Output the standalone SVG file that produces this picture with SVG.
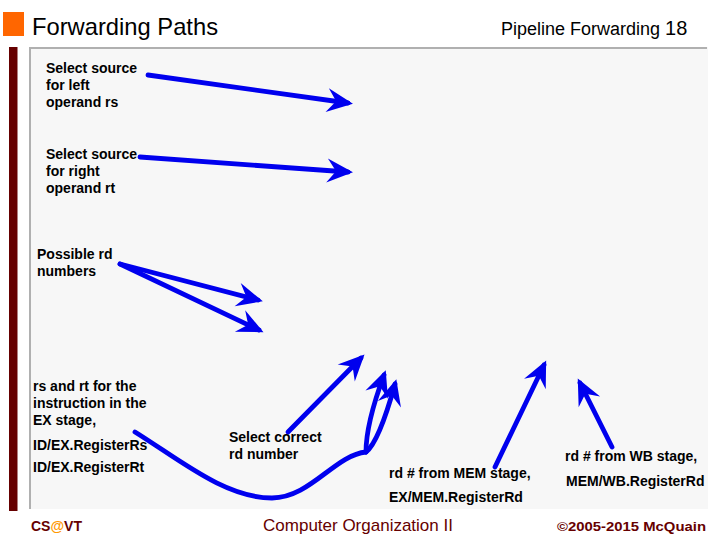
<svg xmlns="http://www.w3.org/2000/svg" width="720" height="540" viewBox="0 0 720 540">
<defs>
<style>
.t{font-family:"Liberation Sans",Arial,sans-serif;font-weight:bold;font-size:14px;fill:#000}
.a{fill:none;stroke:#0000ee;stroke-width:4.8;stroke-linecap:round;stroke-linejoin:round}
.f{font-family:"Liberation Sans",Arial,sans-serif;fill:#660000}
</style>
<marker id="ah" markerUnits="userSpaceOnUse" markerWidth="32" markerHeight="30" viewBox="-28 -15 32 30" refX="-5" refY="0" orient="auto">
<path d="M0,0 L-26,-12 L-17,0 L-26,12 Z" fill="#0000ee"/>
</marker>
</defs>
<rect width="720" height="540" fill="#fff"/>
<g id="header">
<rect x="3" y="12" width="21" height="24" fill="#ff6600"/>
<text x="32" y="35" font-family="'Liberation Sans',Arial,sans-serif" font-size="24" fill="#000" textLength="186" lengthAdjust="spacingAndGlyphs">Forwarding Paths</text>
<text x="501" y="35" font-family="'Liberation Sans',Arial,sans-serif" font-size="18" fill="#000">Pipeline Forwarding <tspan font-size="20">18</tspan></text>
</g>
<g id="frame">
<rect x="9" y="47" width="8.5" height="464" fill="#660000"/>
<rect x="29" y="47" width="679" height="462" fill="#f7f7f7"/>
<line x1="30" y1="48" x2="707" y2="48" stroke="#b0b0b0" stroke-width="2"/>
<line x1="30" y1="47" x2="30" y2="509" stroke="#b0b0b0" stroke-width="2"/>
</g>
<g id="connectors">
<path class="a" d="M148,75 L348,103" marker-end="url(#ah)"/>
<path class="a" d="M140,157 L348,172" marker-end="url(#ah)"/>
<path class="a" d="M120,264 L258,300" marker-end="url(#ah)"/>
<path class="a" d="M120,264 L259,330" marker-end="url(#ah)"/>
<path class="a" d="M288,432 L361,358" marker-end="url(#ah)"/>
<path class="a" d="M135,432 C180,460 225,498 272,498 C310,498 335,455 366,452"/>
<path class="a" d="M366,452 C366,430 374,402 384,375" marker-end="url(#ah)"/>
<path class="a" d="M366,452 C375,445 385,420 395,384" marker-end="url(#ah)"/>
<path class="a" d="M495,467 L544,365" marker-end="url(#ah)"/>
<path class="a" d="M612,447 L580,383" marker-end="url(#ah)"/>
</g>
<g id="n-left">
<text class="t" x="46" y="73">Select source</text>
<text class="t" x="46" y="90">for left</text>
<text class="t" x="46" y="107">operand rs</text>
</g>
<g id="n-right">
<text class="t" x="46" y="159">Select source</text>
<text class="t" x="46" y="176">for right</text>
<text class="t" x="46" y="193">operand rt</text>
</g>
<g id="n-rd">
<text class="t" x="37" y="259">Possible rd</text>
<text class="t" x="37" y="276">numbers</text>
</g>
<g id="n-ex">
<text class="t" x="33" y="391">rs and rt for the</text>
<text class="t" x="33" y="408">instruction in the</text>
<text class="t" x="33" y="425">EX stage,</text>
<text class="t" x="33" y="450">ID/EX.RegisterRs</text>
<text class="t" x="33" y="472">ID/EX.RegisterRt</text>
</g>
<g id="n-select">
<text class="t" x="229" y="442">Select correct</text>
<text class="t" x="229" y="459">rd number</text>
</g>
<g id="n-mem">
<text class="t" x="389" y="478">rd # from MEM stage,</text>
<text class="t" x="389" y="502">EX/MEM.RegisterRd</text>
</g>
<g id="n-wb">
<text class="t" x="565" y="461">rd # from WB stage,</text>
<text class="t" x="566" y="486">MEM/WB.RegisterRd</text>
</g>
<g id="footer">
<text class="f" x="31" y="531" font-size="14" font-weight="bold">CS<tspan fill="#ff9900">@</tspan>VT</text>
<text class="f" x="358" y="531" font-size="17" text-anchor="middle">Computer Organization II</text>
<text class="f" x="706" y="531" font-size="12" font-weight="bold" text-anchor="end" textLength="149" lengthAdjust="spacingAndGlyphs">©2005-2015 McQuain</text>
</g>
</svg>
